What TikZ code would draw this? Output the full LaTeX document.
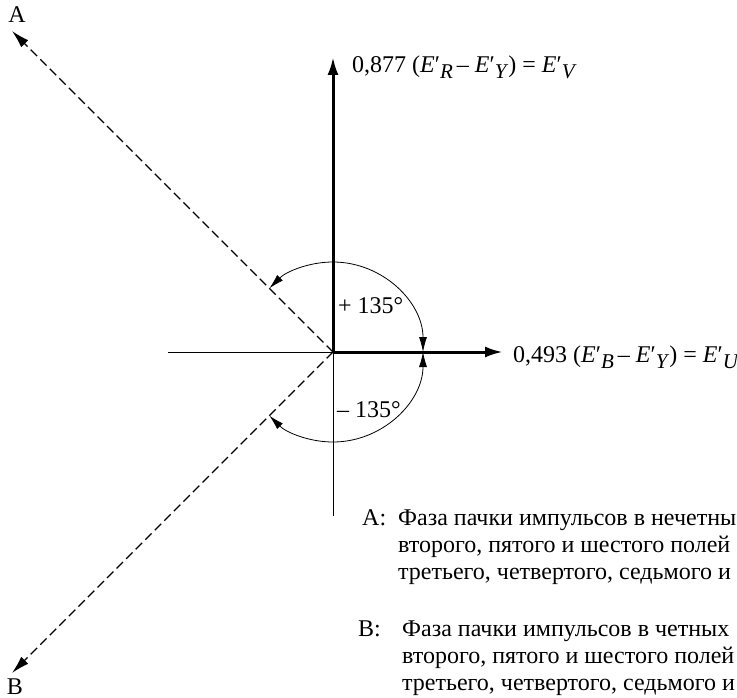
\documentclass[tikz,border=0pt]{standalone}
\usepackage{fontspec}
\setmainfont{Liberation Serif}
\usetikzlibrary{arrows.meta,calc}
\newcommand\Ep[1]{\textit{E}′\raisebox{-6bp}{\fontsize{21bp}{24bp}\selectfont\textit{#1}}}
\begin{document}
\begin{tikzpicture}[x=1bp,y=-1bp,
  axisthick/.style={line width=3bp,-{Latex[length=18bp,width=11bp]}},
  axisthin/.style={line width=0.8bp},
  phasor/.style={line width=1.4bp,dash pattern=on 9bp off 4.5bp,-{Latex[length=18bp,width=10bp]}},
  anglearc/.style={line width=0.8bp,{Latex[length=15bp,width=8bp]}-{Latex[length=15bp,width=8bp]}},
  lbl/.style={inner sep=0pt,font=\fontsize{24bp}{27bp}\selectfont},
  leg/.style={inner sep=0pt,anchor=base west,font=\fontsize{24bp}{27bp}\selectfont}]
\clip (0,0) rectangle (737,698);
\coordinate (O) at (333,352);
\coordinate (V) at (333,57);
\coordinate (U) at (503,352);
\coordinate (L) at (168,352);
\coordinate (D) at (333,516);
\coordinate (Atip) at (12,31);
\coordinate (Btip) at (12,673);
% thin axes
\draw[axisthin] (L) -- (O);
\draw[axisthin] (O) -- (D);
% thick axes
\draw[axisthick] (O) -- (V);
\draw[axisthick] (O) -- (U);
% dashed phasors
\draw[phasor] (O) -- (Atip);
\draw[phasor] (O) -- (Btip);
% angle arcs
\draw[anglearc] ($(O)+(0:90)$) arc[start angle=0,end angle=-135,radius=90];
\draw[anglearc] ($(O)+(0:90)$) arc[start angle=0,end angle=135,radius=90];
% labels
\node[lbl,anchor=base west] (lv) at (352,73) {0,877 (\Ep{R}\,– \Ep{Y}) = \Ep{V}};
\node[lbl,anchor=base west] (lu) at (513,362) {0,493 (\Ep{B}\,– \Ep{Y}) = \Ep{U}};
\node[lbl,anchor=base west] (pa) at (338,313) {+ 135°};
\node[lbl,anchor=base west] (ma) at (337,417) {– 135°};
\node[lbl] (la) at (17,15) {A};
\node[lbl,anchor=base] (lb) at (15,694) {B};
% legend
\node[leg] (ka) at (362,525) {A:};
\node[leg] (ta1) at (398,525) {Фаза пачки импульсов в нечетны};
\node[leg] (ta2) at (398,552) {второго, пятого и шестого полей};
\node[leg] (ta3) at (398,579) {третьего, четвертого, седьмого и};
\node[leg] (kb) at (358,636) {B:};
\node[leg] (tb1) at (402,636) {Фаза пачки импульсов в четных};
\node[leg] (tb2) at (402,663) {второго, пятого и шестого полей};
\node[leg] (tb3) at (402,690) {третьего, четвертого, седьмого и};
\end{tikzpicture}
\end{document}
